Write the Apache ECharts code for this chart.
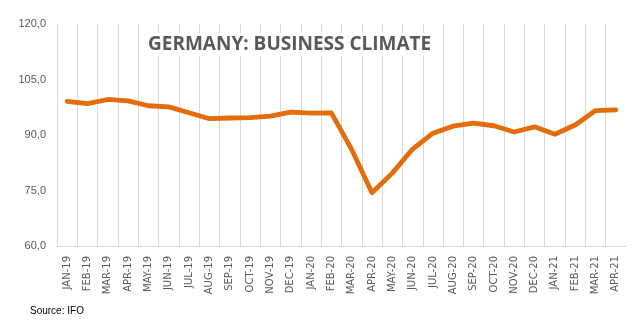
<!DOCTYPE html>
<html><head><meta charset="utf-8">
<script src="https://cdn.jsdelivr.net/npm/echarts@6/dist/echarts.min.js"></script>
<style>html,body{margin:0;padding:0;background:#fff}#c{width:636px;height:331px}</style>
</head><body><div id="c"></div>
<script>
const categories = ['JAN-19','FEB-19','MAR-19','APR-19','MAY-19','JUN-19','JUL-19','AUG-19','SEP-19','OCT-19','NOV-19','DEC-19','JAN-20','FEB-20','MAR-20','APR-20','MAY-20','JUN-20','JUL-20','AUG-20','SEP-20','OCT-20','NOV-20','DEC-20','JAN-21','FEB-21','MAR-21','APR-21'];
const climate = [99.1,98.5,99.6,99.2,97.9,97.6,96.0,94.4,94.6,94.7,95.1,96.2,95.9,96.0,86.1,74.4,79.7,86.2,90.5,92.4,93.2,92.5,90.8,92.2,90.2,92.7,96.6,96.8];
const yTicks = {min:60, max:120, interval:15};
const chart = echarts.init(document.getElementById('c'), null, {renderer:'canvas'});
chart.setOption({
  animation:false,
  backgroundColor:'#fff',
  title:{
    text:'GERMANY: BUSINESS CLIMATE',
    left:141, top:33,
    padding:[2,6,2,7],
    backgroundColor:'#fff',
    textStyle:{fontFamily:'Open Sans', fontWeight:'bold', fontSize:19, color:'#595959'}
  },
  graphic:[{type:'text', left:30, top:306, style:{text:'Source: IFO', font:'10px "Liberation Sans", Arial', fill:'#000'}}],
  grid:{left:57, right:10, top:24, bottom:85},
  xAxis:{
    type:'category', data:categories, boundaryGap:true,
    axisLine:{show:true, lineStyle:{color:'#d9d9d9', width:1}},
    axisTick:{show:false},
    splitLine:{show:true, showMaxLine:false, lineStyle:{color:'#d9d9d9', width:1}},
    axisLabel:{rotate:90, margin:10, interval:0, color:'#595959', fontSize:10, fontFamily:'DejaVu Sans'}
  },
  yAxis:{
    type:'value', min:yTicks.min, max:yTicks.max, interval:yTicks.interval,
    axisLine:{show:false}, axisTick:{show:false}, splitLine:{show:false},
    axisLabel:{margin:11, color:'#595959', fontSize:11, fontFamily:'Liberation Sans',
      formatter:v=>v.toFixed(1).replace('.',',')}
  },
  series:[{type:'line', data:climate, symbol:'none', z:1,
    lineStyle:{color:'#E46C0A', width:4.8, cap:'round', join:'round'}}]
});
</script></body></html>
